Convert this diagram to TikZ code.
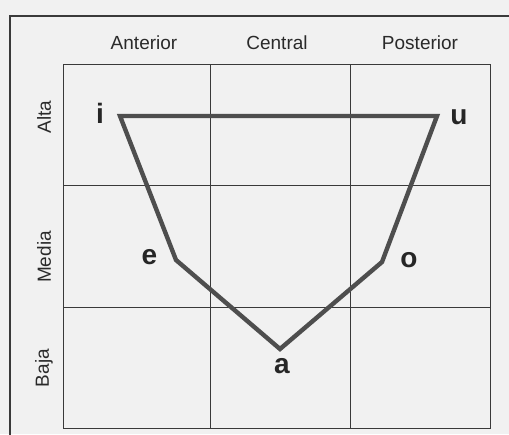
\documentclass[tikz,border=0pt]{standalone}
\usepackage{fontspec}
\setmainfont{Liberation Sans}
\definecolor{paper}{HTML}{F1F1F1}
\definecolor{gridc}{HTML}{3A3A3A}
\definecolor{polyc}{HTML}{4E4E4E}
\definecolor{txtc}{HTML}{2A2A2A}
\begin{document}
\begin{tikzpicture}[x=1pt,y=-1pt,
  gridline/.style={draw=gridc,line width=1pt},
  frameline/.style={draw=gridc,line width=1.4pt},
  header/.style={font=\fontsize{19}{21}\selectfont,text=txtc,inner sep=0pt},
  rowlab/.style={font=\fontsize{19}{21}\selectfont,text=txtc,inner sep=0pt,rotate=90},
  vowel/.style={font=\fontsize{28}{30}\selectfont\bfseries,text=black!85,inner sep=0pt},
  chart/.style={draw=polyc,line width=4.4pt,line join=miter}]
\useasboundingbox (0,0) rectangle (509,434);
\fill[paper] (0,0) rectangle (509,434);
% outer frame
\draw[frameline] (512,16) -- (10,16) -- (10,437);
% grid
\draw[gridline] (63,64) rectangle (490,428);
\draw[gridline] (210,64) -- (210,428);
\draw[gridline] (350,64) -- (350,428);
\draw[gridline] (63,185) -- (490,185);
\draw[gridline] (63,307) -- (490,307);
% headers
\node[header] (hant) at (144,43) {Anterior};
\node[header] (hcen) at (277,43) {Central};
\node[header] (hpos) at (420,43) {Posterior};
\node[rowlab] (ralta) at (44,117) {Alta};
\node[rowlab] (rmed) at (44,257) {Media};
\node[rowlab] (rbaj) at (44,368) {Baja};
% vowel polygon
\coordinate (pi) at (120,116);
\coordinate (pu) at (437,116);
\coordinate (po) at (382,262);
\coordinate (pa) at (280,349);
\coordinate (pe) at (176,260);
\draw[chart] (pi) -- (pu) -- (po) -- (pa) -- (pe) -- cycle;
% vowel labels
\node[vowel] (vi) at (100,113) {i};
\node[vowel] (vu) at (459,117.5) {u};
\node[vowel] (ve) at (149.5,257.5) {e};
\node[vowel] (vo) at (409,260) {o};
\node[vowel] (va) at (282,366) {a};
\end{tikzpicture}
\end{document}
